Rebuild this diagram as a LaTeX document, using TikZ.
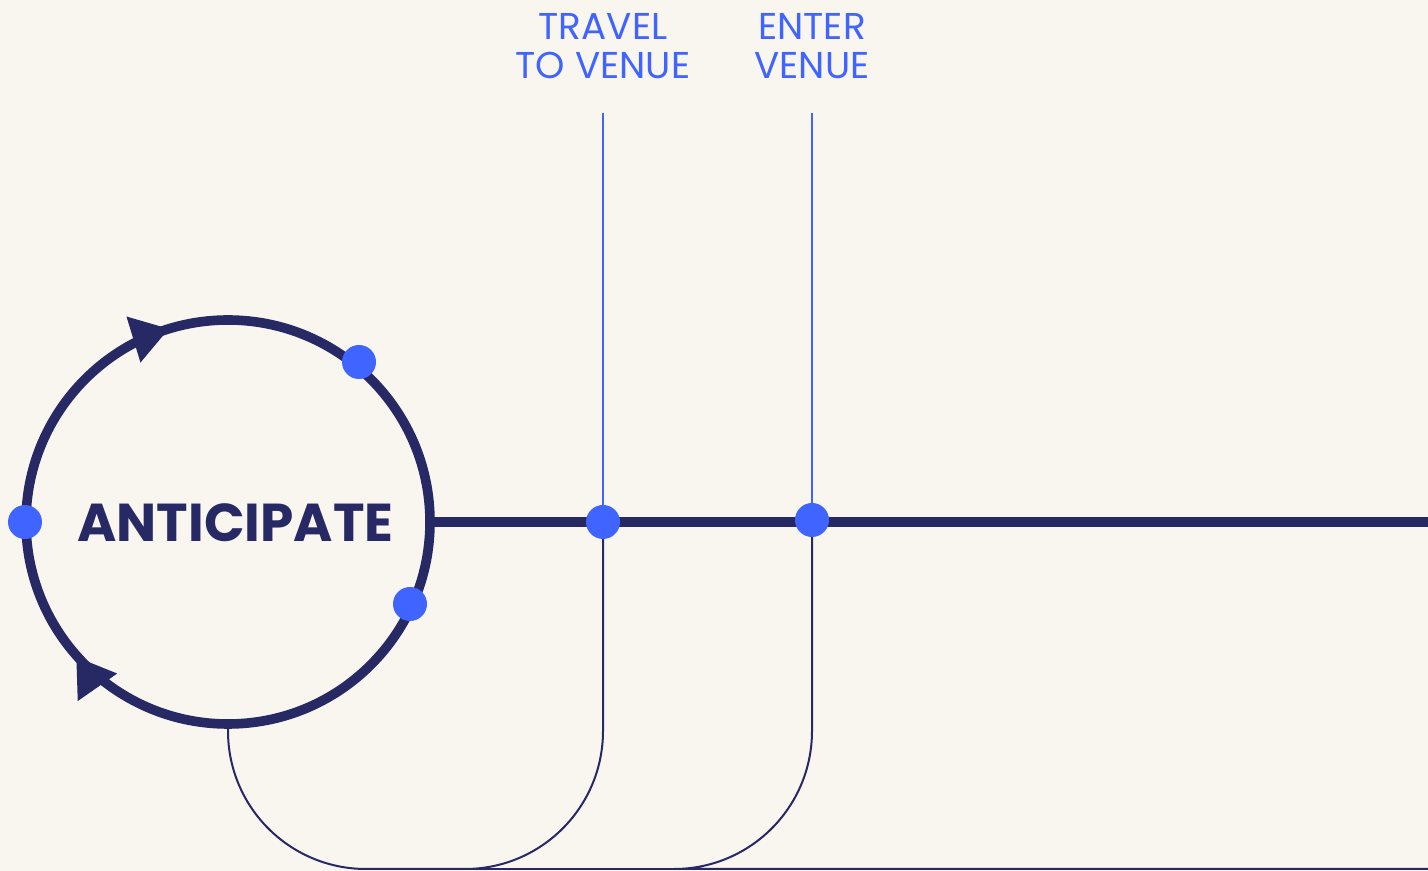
\documentclass[tikz,border=0pt]{standalone}
\usepackage{fontspec}
\setmainfont{Poppins}
\usetikzlibrary{arrows.meta,decorations.markings,calc}
\definecolor{navy}{HTML}{272964}
\definecolor{dotblue}{HTML}{4064FF}
\definecolor{bg}{HTML}{F9F5EF}
\begin{document}
\begin{tikzpicture}[x=0.75pt,y=0.75pt,
  thickline/.style={draw=navy,line width=7.2pt},
  thinline/.style={draw=navy,line width=1.5pt},
  blueline/.style={draw=dotblue,line width=1.5pt},
  dot/.style={circle,fill=dotblue,minimum size=25.5pt,inner sep=0pt},
  steplabel/.style={text=dotblue,align=center,inner sep=0pt,font=\fontsize{28}{29.5}\selectfont}]
\useasboundingbox (0,0) rectangle (1428,871);
\fill[bg] (0,0) rectangle (1428,871);
\coordinate (C) at (228,349);
\coordinate (Cb) at (228,147);
\coordinate (Ce) at (430,349);
\coordinate (lineend) at (1428,349);
\coordinate (top1) at (603,758);
\coordinate (top2) at (812,758);
\coordinate (bottomend) at (1428,2);
% cycle circle with arrowheads
\draw[thickline,postaction={decorate},decoration={markings,
   mark=at position 0.953 with {\arrow[navy]{Triangle[length=28pt,width=34pt]}},
   mark=at position 0.634 with {\pgftransformyshift{-3.5pt}\arrow[navy]{Triangle[length=28pt,width=34pt]}}}]
  (C) ++(90:202) arc[start angle=90,end angle=-270,radius=202];
% main line
\draw[thickline] (Ce) -- (lineend);
% nodes
\node[dot] (d1) at (25,349) {};
\node[dot] (d2) at (359,509) {};
\node[dot] (d3) at (410,267) {};
% bottom return lines and blue lines
\coordinate (j1) at (603,349);
\coordinate (j2) at (812,351);
\draw[blueline] (top1) -- (j1);
\draw[blueline] (top2) -- (j2);
\draw[thinline] (Cb) -- (228,140) arc[start angle=180,end angle=270,radius=138] -- (465,2) arc[start angle=270,end angle=360,radius=138] -- (j1);
\draw[thinline] (j2) -- (812,140) arc[start angle=0,end angle=-90,radius=138] -- (bottomend);
\draw[thinline] (460,2) -- (680,2);
\node[dot] (d4) at (j1) {};
\node[dot] (d5) at (j2) {};
% labels
\node[text=navy,font=\fontsize{40}{40}\selectfont\bfseries,inner sep=0pt] (ant) at (235.5,348) {ANTICIPATE};
\node[steplabel] (travel) at (603,825) {TRAVEL\\TO VENUE};
\node[steplabel] (enter) at (812,825) {ENTER\\VENUE};
\end{tikzpicture}
\end{document}
